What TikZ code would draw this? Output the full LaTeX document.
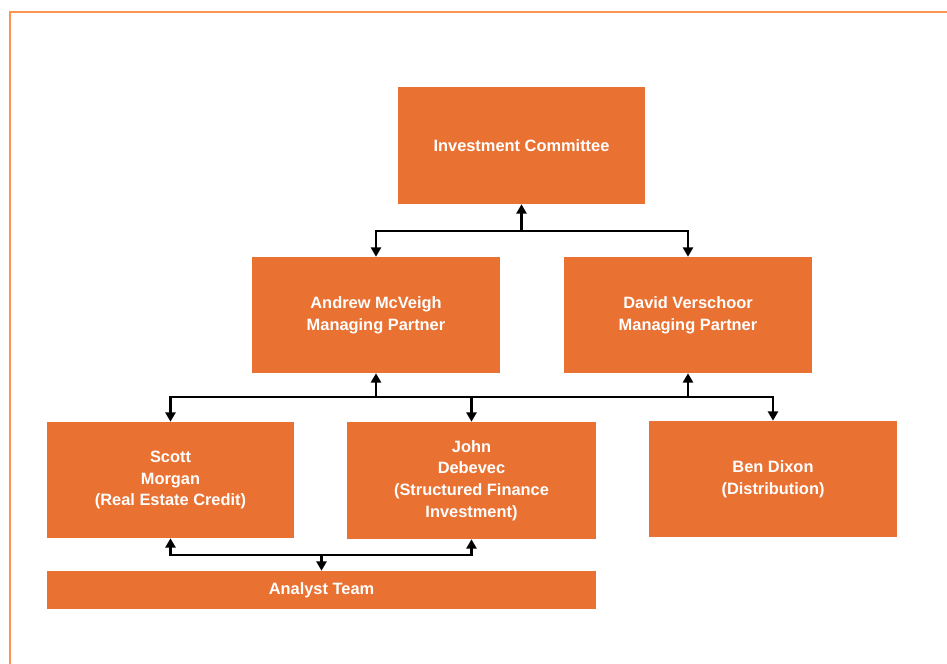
\documentclass[tikz,border=0pt]{standalone}
\usepackage{fontspec}
\setmainfont{Liberation Sans}
\usetikzlibrary{arrows.meta}
\definecolor{boxorange}{RGB}{233,113,50}
\definecolor{frameorange}{RGB}{250,150,80}
\begin{document}
\begin{tikzpicture}[x=0.75pt,y=-0.75pt,
  orgbox/.style={fill=boxorange, draw=none, text=white, align=center,
    font=\fontsize{12.3}{16.3}\selectfont\bfseries, inner sep=0pt},
  conn/.style={line width=2.2pt, draw=black},
  tip/.style={-{Triangle[length=7pt,width=7.5pt]}}]
\useasboundingbox (0,0) rectangle (947,664);
\draw[frameorange, line width=1.6pt] (10,664) -- (10,12) -- (947,12);

\node[orgbox, minimum width=247*0.75pt, minimum height=117*0.75pt] (ic) at (521.5,145.5) {Investment Committee};
\node[orgbox, minimum width=248*0.75pt, minimum height=116*0.75pt] (am) at (376,315) {Andrew McVeigh\\Managing Partner};
\node[orgbox, minimum width=248*0.75pt, minimum height=116*0.75pt] (dv) at (688,315) {David Verschoor\\Managing Partner};
\node[orgbox, minimum width=247*0.75pt, minimum height=116*0.75pt] (sm) at (170.5,480) {Scott\\Morgan\\(Real Estate Credit)};
\node[orgbox, minimum width=249*0.75pt, minimum height=117*0.75pt] (jd) at (471.5,480.5) {John\\Debevec\\(Structured Finance\\Investment)};
\node[orgbox, minimum width=248*0.75pt, minimum height=116*0.75pt] (bd) at (773,479) {Ben Dixon\\(Distribution)};
\node[orgbox, minimum width=549*0.75pt, minimum height=38*0.75pt] (at) at (321.5,590) {Analyst Team};

% level 1
\coordinate (j1) at (521.5,231);
\draw[conn, tip] (j1) -- (ic.south);
\draw[conn, tip] (j1) -| (am.north);
\draw[conn, tip] (j1) -| (dv.north);

% level 2
\coordinate (j2a) at (376,397);
\coordinate (j2b) at (688,397);
\draw[conn, tip] (j2a) -- (am.south);
\draw[conn, tip] (j2b) -- (dv.south);
\draw[conn] (j2a) -- (j2b);
\draw[conn, tip] (j2a) -| (sm.north);
\draw[conn, tip] (j2a) -| (jd.north);
\draw[conn, tip] (j2b) -| (bd.north);

% level 3
\coordinate (j3) at (321.5,555);
\draw[conn, tip] (j3) -- (at.north);
\draw[conn, tip] (j3) -| (sm.south);
\draw[conn, tip] (j3) -| (jd.south);
\end{tikzpicture}
\end{document}
